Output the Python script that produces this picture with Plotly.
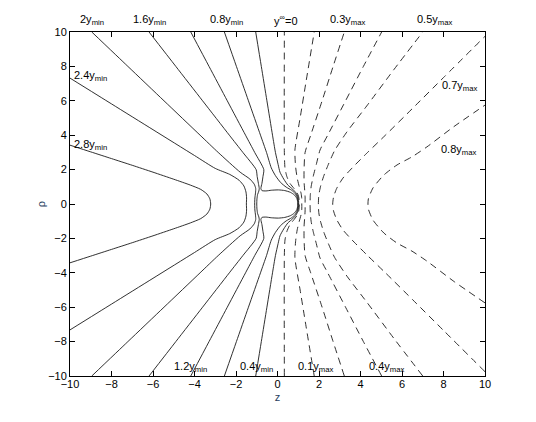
import plotly.graph_objects as go

# Konturlinien, jeweils obere Hälfte (rho >= 0) vom Scheitel auf der Achse nach außen
# durchgezogen: Vielfache von y_min
S28_Z = [-3.22, -3.26, -3.40, -3.70, -4.20, -5.00, -6.00, -7.00, -8.00, -9.00, -10.0]
S28_R = [0.00, 0.30, 0.58, 0.85, 1.10, 1.44, 1.85, 2.25, 2.64, 3.03, 3.42]
S24_Z = [-1.50, -1.49, -1.52, -1.62, -1.85, -2.30, -3.00, -4.00, -6.00, -8.00, -10.0]
S24_R = [0.00, 0.35, 0.70, 1.05, 1.38, 1.72, 2.07, 2.82, 4.32, 5.82, 7.32]
S20_Z = [-1.10, -1.09, -1.06, -1.05, -1.12, -1.33, -1.80, -2.86, -3.73, -5.47, -7.21, -8.95]
S20_R = [0.00, 0.35, 0.65, 0.90, 1.15, 1.45, 1.85, 3.00, 4.00, 6.00, 8.00, 10.0]
S16_Z = [-1.00, -0.99, -0.96, -0.90, -0.88, -0.92, -0.98, -1.03, -1.67, -2.32, -3.61, -4.90, -6.19]
S16_R = [0.00, 0.30, 0.55, 0.75, 0.90, 1.20, 1.60, 2.00, 3.00, 4.00, 6.00, 8.00, 10.0]
S12_Z = [0.98, 0.97, 0.93, 0.82, 0.62, 0.35, 0.05, -0.30, -0.55, -0.75, -0.80, -0.75, -0.70,
         -0.66, -1.10, -1.54, -2.42, -3.30, -4.18]
S12_R = [0.00, 0.15, 0.33, 0.52, 0.68, 0.78, 0.82, 0.80, 0.76, 0.78, 0.90, 1.20, 1.60,
         2.00, 3.00, 4.00, 6.00, 8.00, 10.0]
S08_Z = [0.99, 0.985, 0.95, 0.86, 0.68, 0.42, 0.15, -0.10, -0.30, -0.53, -0.82, -1.40, -1.98, -2.56]
S08_R = [0.00, 0.20, 0.40, 0.60, 0.80, 0.98, 1.25, 1.65, 2.10, 3.00, 4.00, 6.00, 8.00, 10.0]
S04_Z = [1.02, 1.015, 0.98, 0.90, 0.73, 0.50, 0.30, 0.12, 0.03, -0.10, -0.24, -0.51, -0.78, -1.05]
S04_R = [0.00, 0.20, 0.42, 0.63, 0.86, 1.10, 1.45, 1.85, 2.30, 3.00, 4.00, 6.00, 8.00, 10.0]

# gestrichelt: 0 und Vielfache von y_max
D00_Z = [1.05, 1.045, 1.02, 0.95, 0.80, 0.60, 0.45, 0.36, 0.33, 0.33]
D00_R = [0.00, 0.20, 0.42, 0.65, 0.90, 1.20, 1.60, 2.10, 3.00, 10.0]
D01_Z = [1.17, 1.17, 1.14, 1.05, 0.95, 0.87, 0.84, 1.09, 1.36, 1.77]
D01_R = [0.00, 0.30, 0.60, 1.00, 1.50, 2.20, 3.14, 5.00, 7.00, 10.0]
D03_Z = [1.33, 1.33, 1.31, 1.28, 1.28, 1.33, 1.60, 2.15, 2.68, 3.22]
D03_R = [0.00, 0.40, 0.80, 1.30, 2.00, 3.00, 4.00, 6.00, 8.00, 10.0]
D04_Z = [1.57, 1.58, 1.62, 1.72, 1.87, 2.05, 2.42, 3.28, 4.14, 5.02]
D04_R = [0.00, 0.50, 1.00, 1.60, 2.30, 3.14, 4.00, 6.00, 8.00, 10.0]
D05_Z = [1.97, 1.99, 2.07, 2.22, 2.45, 2.75, 3.35, 4.30, 5.60, 7.00]
D05_R = [0.00, 0.50, 1.00, 1.60, 2.30, 3.10, 4.20, 5.70, 7.80, 10.0]
D07_Z = [2.66, 2.70, 2.85, 3.15, 3.60, 4.30, 5.20, 6.50, 8.00, 10.0]
D07_R = [0.00, 0.40, 0.90, 1.50, 2.10, 2.95, 4.00, 5.55, 7.35, 9.75]
D08_Z = [4.36, 4.38, 4.60, 5.13, 5.76, 6.48, 7.20, 8.50, 10.0]
D08_R = [0.00, 0.30, 0.93, 1.69, 2.27, 2.74, 3.32, 4.50, 5.75]

# Beschriftungen
TOP_TEXT = ["2y<sub>min</sub>", "1.6y<sub>min</sub>", "0.8y<sub>min</sub>", "y<sup>∞</sup>=0",
            "0.3y<sub>max</sub>", "0.5y<sub>max</sub>"]
TOP_X = [-8.94, -6.19, -2.48, 0.41, 3.35, 7.59]
IN_TEXT = ["2.4y<sub>min</sub>", "2.8y<sub>min</sub>", "0.7y<sub>max</sub>", "0.8y<sub>max</sub>",
           "1.2y<sub>min</sub>", "0.4y<sub>min</sub>", "0.1y<sub>max</sub>", "0.4y<sub>max</sub>"]
IN_X = [-8.99, -8.99, 8.75, 8.70, -4.17, -0.99, 1.81, 5.23]
IN_Y = [7.45, 3.45, 6.85, 3.15, -9.50, -9.50, -9.45, -9.45]

TICKS = [-10, -8, -6, -4, -2, 0, 2, 4, 6, 8, 10]

solid = [(S28_Z, S28_R), (S24_Z, S24_R), (S20_Z, S20_R), (S16_Z, S16_R),
         (S12_Z, S12_R), (S08_Z, S08_R), (S04_Z, S04_R)]
dashed = [(D00_Z, D00_R), (D01_Z, D01_R), (D03_Z, D03_R), (D04_Z, D04_R),
          (D05_Z, D05_R), (D07_Z, D07_R), (D08_Z, D08_R)]

FONT = "Liberation Sans, Arial, Helvetica, sans-serif"

fig = go.Figure()
for curves, dash in ((solid, "solid"), (dashed, "7px,5px")):
    for z, r in curves:
        # untere Hälfte gespiegelt
        zz = z[::-1] + z[1:]
        rr = [-v for v in r[::-1]] + r[1:]
        fig.add_trace(go.Scatter(x=zz, y=rr, mode="lines", showlegend=False, hoverinfo="skip",
                                 line=dict(color="#1a1a1a", width=0.9, dash=dash,
                                           shape="spline", smoothing=0.6)))

for t, x in zip(TOP_TEXT, TOP_X):
    fig.add_annotation(x=x, y=1.06, xref="x", yref="paper", text=t, showarrow=False,
                       font=dict(size=11, family=FONT, color="black"))
for t, x, y in zip(IN_TEXT, IN_X, IN_Y):
    fig.add_annotation(x=x, y=y, xref="x", yref="y", text=t, showarrow=False,
                       font=dict(size=11, family=FONT, color="black"))

axis = dict(range=[-10, 10], tickvals=TICKS, ticks="inside", ticklen=5, tickwidth=1,
            tickcolor="black", showline=True, linecolor="black", linewidth=1, mirror="ticks",
            showgrid=False, zeroline=False, automargin=False,
            tickfont=dict(size=11, family=FONT, color="black"))
# die Seite hat 8px Rand, daher 528x414 statt 536x422
fig.update_layout(
    width=528, height=414, plot_bgcolor="white", paper_bgcolor="white",
    margin=dict(l=62, r=51, t=24, b=46),
    xaxis=dict(axis, ticklabelstandoff=-2,
               title=dict(text="z", standoff=4, font=dict(size=11, family=FONT))),
    yaxis=dict(axis, title=dict(text="ρ", standoff=0, font=dict(size=11, family=FONT))),
)
fig.write_html("out.html")
